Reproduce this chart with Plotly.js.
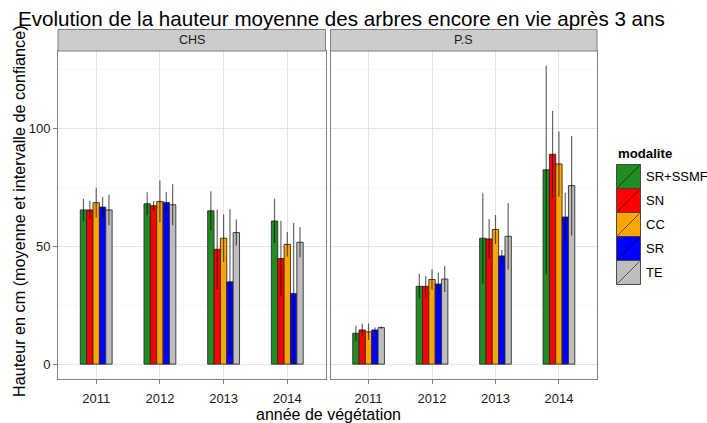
<!DOCTYPE html>
<html>
<head>
<meta charset="utf-8">
<script src="https://cdn.plot.ly/plotly-3.0.1.min.js"></script>
<style>html,body{margin:0;padding:0;background:#fff;}#chart{width:707px;height:423px;}</style>
</head>
<body>
<div id="chart"></div>
<script>
// ---- data ----
const years = ['2011', '2012', '2013', '2014'];
const modalites = ['SR+SSMF', 'SN', 'CC', 'SR', 'TE'];
const colors = ['#228B22', '#FF0000', '#FFA500', '#0000FF', '#BEBEBE'];
const panels = ['CHS', 'P.S'];

// mean height (cm) per modalite, over years
const chsMeans = [
  [65.4, 68.0, 65.0, 60.7],
  [65.4, 67.2, 48.7, 44.8],
  [68.5, 69.0, 53.4, 50.8],
  [66.6, 68.6, 34.9, 30.0],
  [65.4, 67.6, 55.8, 51.7]
];
const chsErr = [
  [4.7, 4.9, 8.3, 9.4],
  [3.9, 2.0, 16.9, 16.0],
  [6.3, 8.9, 10.1, 5.2],
  [4.3, 4.4, 30.8, 29.9],
  [6.5, 8.7, 5.5, 6.4]
];
const psMeans = [
  [13.1, 33.0, 53.4, 82.4],
  [14.5, 33.0, 53.1, 89.0],
  [13.7, 35.9, 57.1, 84.9],
  [14.5, 34.0, 45.9, 62.4],
  [15.5, 36.1, 54.2, 75.7]
];
const psErr = [
  [3.2, 5.3, 19.2, 44.3],
  [2.6, 4.4, 8.5, 18.4],
  [3.5, 4.3, 6.1, 13.8],
  [1.0, 4.8, 2.5, 10.3],
  [0.5, 5.5, 14.1, 21.1]
];

// ---- geometry helpers ----
const W = 707, H = 423;
const L = 58, R = 597, T = 51, B = 379;
const pw = R - L, ph = B - T;
const px = x => (x - L) / pw;
const py = y => (B - y) / ph;
const FONT = 'Liberation Sans, Arial, sans-serif';

const traces = [];
[[chsMeans, chsErr, 'x', 'y'], [psMeans, psErr, 'x2', 'y2']].forEach(([means, errs, xa, ya]) => {
  modalites.forEach((m, i) => {
    traces.push({
      type: 'bar',
      name: m,
      x: years,
      y: means[i],
      xaxis: xa,
      yaxis: ya,
      showlegend: false,
      marker: { color: colors[i], line: { color: 'rgba(40,40,40,0.85)', width: 1 } },
      error_y: { type: 'data', array: errs[i], visible: true, color: 'rgba(0,0,0,0.6)', thickness: 1.2, width: 0 }
    });
  });
});

const shapes = [];
const annotations = [];

// strips
const stripTop = 29.5;
[[L, 325.5], [330.5, R]].forEach(([a, b], k) => {
  shapes.push({ type: 'rect', xref: 'paper', yref: 'paper', x0: px(a), x1: px(b), y0: py(T), y1: py(stripTop),
    fillcolor: '#CCCCCC', line: { color: '#808080', width: 1 } });
  annotations.push({ xref: 'paper', yref: 'paper', x: px((a + b) / 2), y: py((T + stripTop) / 2),
    text: panels[k], showarrow: false, xanchor: 'center', yanchor: 'middle',
    font: { family: FONT, size: 12.5, color: '#1a1a1a' } });
});

// axis titles
annotations.push({ xref: 'paper', yref: 'paper', x: px(18.5), y: py(211.5), textangle: -90,
  text: 'Hauteur en cm (moyenne et intervalle de confiance)', showarrow: false,
  xanchor: 'center', yanchor: 'middle', font: { family: FONT, size: 16.2, color: '#000' } });
annotations.push({ xref: 'paper', yref: 'paper', x: px(328), y: py(414),
  text: 'année de végétation', showarrow: false,
  xanchor: 'center', yanchor: 'middle', font: { family: FONT, size: 16, color: '#000' } });

// legend (custom, ggplot-like keys)
annotations.push({ xref: 'paper', yref: 'paper', x: px(616), y: py(153),
  text: '<b>modalite</b>', showarrow: false, xanchor: 'left', yanchor: 'middle',
  font: { family: FONT, size: 13.2, color: '#000' } });
const keyX0 = 616.5, keyX1 = 640.5, keyY0 = 164.5, keyH = 24;
modalites.forEach((m, i) => {
  const y0 = keyY0 + i * keyH, y1 = y0 + keyH;
  shapes.push({ type: 'rect', xref: 'paper', yref: 'paper', x0: px(keyX0), x1: px(keyX1), y0: py(y1), y1: py(y0),
    fillcolor: colors[i], line: { color: 'rgba(60,60,60,0.9)', width: 1 } });
  shapes.push({ type: 'line', xref: 'paper', yref: 'paper', x0: px(keyX0 + 1), x1: px(keyX1 - 1), y0: py(y1 - 1), y1: py(y0 + 1),
    line: { color: 'rgba(0,0,0,0.55)', width: 1 } });
  annotations.push({ xref: 'paper', yref: 'paper', x: px(643.5), y: py((y0 + y1) / 2),
    text: m, showarrow: false, xanchor: 'left', yanchor: 'middle',
    font: { family: FONT, size: 13, color: '#000' } });
});

const xBase = {
  type: 'category', range: [-0.6, 3.6], showgrid: true, gridcolor: '#E5E5E5', gridwidth: 1,
  showline: true, mirror: true, linecolor: '#7F7F7F', linewidth: 1,
  ticks: 'outside', ticklen: 4, tickcolor: '#7F7F7F', ticklabelstandoff: 3,
  tickfont: { family: FONT, size: 13, color: '#1a1a1a' },
  zeroline: false, fixedrange: true
};
const yBase = {
  range: [-6.3, 132.8], tick0: 0, dtick: 50, showgrid: true, gridcolor: '#E5E5E5', gridwidth: 1,
  minor: { dtick: 25, tick0: 0, showgrid: true, gridcolor: '#F7F7F7', gridwidth: 1, ticks: '' },
  showline: true, mirror: true, linecolor: '#7F7F7F', linewidth: 1,
  ticks: 'outside', ticklen: 4, tickcolor: '#7F7F7F', tickfont: { family: FONT, size: 13, color: '#1a1a1a' },
  zeroline: false, fixedrange: true
};

const layout = {
  width: W, height: H,
  margin: { l: L, r: W - R, t: T, b: H - B, pad: 0 },
  paper_bgcolor: '#fff', plot_bgcolor: '#fff',
  font: { family: FONT },
  title: { text: 'Evolution de la hauteur moyenne des arbres encore en vie après 3 ans',
    xref: 'container', yref: 'container', x: 18 / W, xanchor: 'left', y: 1 - 19 / H, yanchor: 'middle',
    font: { family: FONT, size: 20.6, color: '#000' } },
  barmode: 'group', bargap: 0.5, bargroupgap: 0,
  showlegend: false,
  xaxis: Object.assign({}, xBase, { domain: [0, px(325.5)], anchor: 'y' }),
  xaxis2: Object.assign({}, xBase, { domain: [px(330.5), 1], anchor: 'y2' }),
  yaxis: Object.assign({}, yBase, { anchor: 'x' }),
  yaxis2: Object.assign({}, yBase, { anchor: 'x2', matches: 'y', showticklabels: false, ticks: '' }),
  shapes: shapes,
  annotations: annotations
};

Plotly.newPlot('chart', traces, layout, { displayModeBar: false, staticPlot: true });
</script>
</body>
</html>
